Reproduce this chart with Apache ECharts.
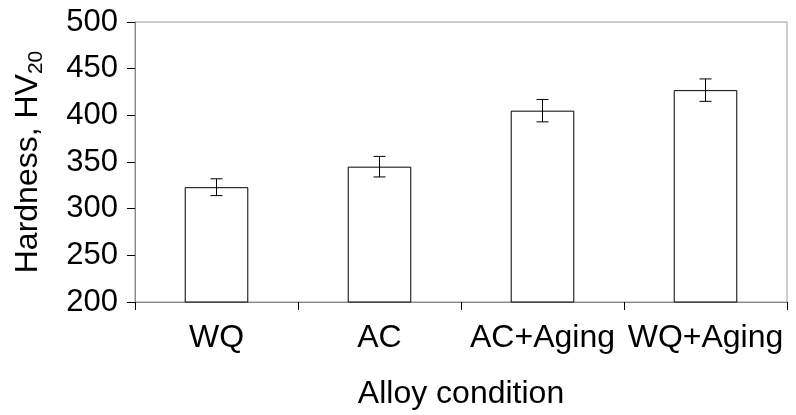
<!DOCTYPE html>
<html>
<head>
<meta charset="utf-8">
<script src="https://cdn.jsdelivr.net/npm/echarts@6/dist/echarts.min.js"></script>
<style>
  html, body { margin: 0; padding: 0; background: #fff; }
  #chart { width: 796px; height: 415px; }
</style>
</head>
<body>
<div id="chart"></div>
<script>
  // 数据
  var categories = ['WQ', 'AC', 'AC+Aging', 'WQ+Aging'];
  var hardness = [323, 345, 405, 427];
  var errors = [9, 11, 12, 12];

  var errData = [];
  for (var i = 0; i < categories.length; i++) {
    errData.push([i, hardness[i] - errors[i], hardness[i] + errors[i]]);
  }

  var myChart = echarts.init(document.getElementById('chart'));
  var font = 'Liberation Sans, Arial, sans-serif';

  var option = {
    animation: false,
    textStyle: { fontFamily: font, color: '#000' },
    grid: {
      left: 135, right: 9, top: 22, bottom: 112,
      show: true, borderColor: '#999', borderWidth: 1, backgroundColor: '#fff'
    },
    xAxis: {
      type: 'category',
      data: categories,
      name: 'Alloy condition',
      nameLocation: 'middle',
      nameGap: 76,
      nameTextStyle: { fontSize: 32, fontFamily: font, color: '#000' },
      axisLine: { lineStyle: { color: '#888', width: 1 } },
      axisTick: { show: true, interval: 0, length: 8, lineStyle: { color: '#000' } },
      axisLabel: { interval: 0, hideOverlap: false, fontSize: 32, fontFamily: font, color: '#000', margin: 20 }
    },
    yAxis: {
      type: 'value',
      min: 200,
      max: 500,
      interval: 50,
      name: '{a|Hardness, HV}{b|20}',
      nameLocation: 'middle',
      nameGap: 88,
      nameTextStyle: {
        fontFamily: font, color: '#000',
        rich: {
          a: { fontSize: 32, lineHeight: 36, fontFamily: font, color: '#000' },
          b: { fontSize: 21, lineHeight: 38, verticalAlign: 'bottom', fontFamily: font, color: '#000' }
        }
      },
      splitLine: { show: false },
      axisLine: { show: true, lineStyle: { color: '#888', width: 1 } },
      axisTick: { show: true, length: 8, lineStyle: { color: '#000' } },
      axisLabel: { fontSize: 31, fontFamily: font, color: '#000', margin: 17 }
    },
    series: [{
      type: 'bar',
      data: hardness,
      barWidth: '39%',
      itemStyle: { color: '#fff', borderColor: '#000', borderWidth: 1 }
    }, {
      type: 'custom',
      data: errData,
      z: 10,
      renderItem: function (params, api) {
        var lo = api.coord([api.value(0), api.value(1)]);
        var hi = api.coord([api.value(0), api.value(2)]);
        var w = 6;
        var st = { stroke: '#000', lineWidth: 1 };
        return {
          type: 'group',
          children: [
            { type: 'line', shape: { x1: hi[0], y1: hi[1], x2: lo[0], y2: lo[1] }, style: st },
            { type: 'line', shape: { x1: hi[0] - w, y1: hi[1], x2: hi[0] + w, y2: hi[1] }, style: st },
            { type: 'line', shape: { x1: lo[0] - w, y1: lo[1], x2: lo[0] + w, y2: lo[1] }, style: st }
          ]
        };
      }
    }]
  };

  myChart.setOption(option);
</script>
</body>
</html>
